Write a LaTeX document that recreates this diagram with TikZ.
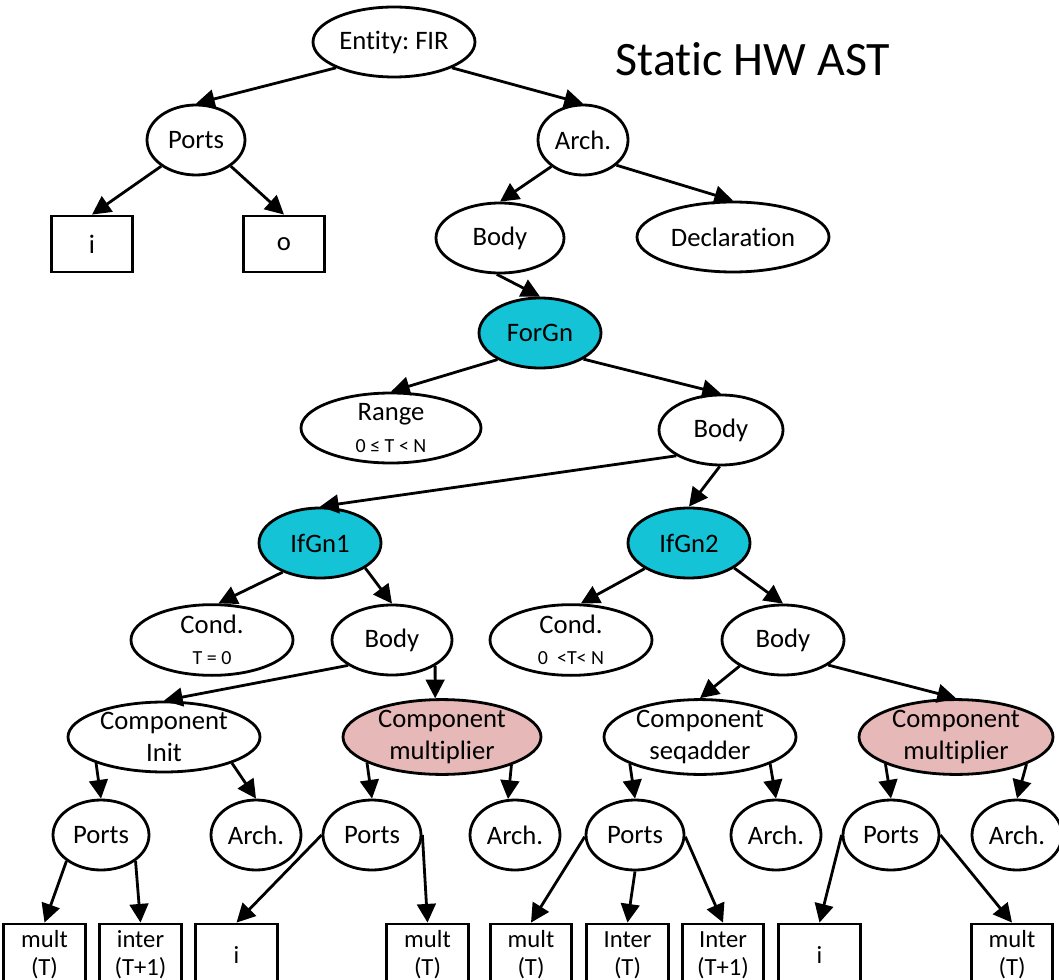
\documentclass[tikz,border=0pt]{standalone}
\usepackage{fontspec}
\setmainfont{Carlito}[Ligatures=NoCommon]
\frenchspacing
\usetikzlibrary{shapes.geometric,arrows.meta}
\definecolor{gncyan}{RGB}{20,195,214}
\definecolor{comppink}{RGB}{230,184,183}
\newcommand{\smalltxt}{\fontsize{15}{19.5}\selectfont}
\begin{document}
\begin{tikzpicture}[x=0.75pt,y=-0.75pt,
  every node/.style={font=\fontsize{20}{23.5}\selectfont, inner sep=0pt, align=center},
  el/.style={draw, ellipse, line width=2.1pt, minimum width={1.5pt*#1}, minimum height=52.5pt},
  tbox/.style={draw, rectangle, line width=2.1pt, minimum width=61pt, minimum height=42pt},
  bbox/.style={draw, rectangle, line width=2.1pt, minimum width=61pt, minimum height=46.5pt,
               font=\fontsize{18.5}{21}\selectfont},
  arr/.style={draw, line width=2.1pt, -{Triangle[length=14pt,width=14pt]}}]
\useasboundingbox (0,0) rectangle (1059,980);

% title
\node[font=\fontsize{36}{40}\selectfont, anchor=base] (title) at (753,76) {Static HW AST};

% entity level
\node[el=81] (ent) at (394,42) {Entity: FIR};
\node[el=49] (ports) at (196,140) {Ports};
\node[el=45] (arch) at (583,140) {Arch.};
\node[tbox] (pi) at (92,244) {i};
\node[tbox] (po) at (284,244) {o};
\node[el=64] (body) at (500,238) {Body};
\node[el=96] (decl) at (733,237) {Declaration};

% for-generate
\node[el=61, fill=gncyan] (forgn) at (540,333) {ForGn};
\node[el=90] (range) at (391,428) {Range\\\smalltxt 0 ≤ T < N};
\node[el=62] (bodyf) at (721,430) {Body};

% if-generates
\node[el=61, fill=gncyan] (ifa) at (320,543) {IfGn1};
\node[el=61, fill=gncyan] (ifb) at (689,543) {IfGn2};
\node[el=81] (conda) at (212,640) {Cond.\\\smalltxt T = 0};
\node[el=60] (bodya) at (392,640) {Body};
\node[el=81] (condb) at (571,640) {Cond.\\\smalltxt 0~~<T< N};
\node[el=61] (bodyb) at (783,640) {Body};

% components
\node[el=96] (cinit) at (164,737) {Component\\Init};
\node[el=99, fill=comppink] (cmula) at (442,737) {Component\\multiplier};
\node[el=96] (cseq) at (700,737) {Component\\seqadder};
\node[el=97, fill=comppink] (cmulb) at (956,737) {Component\\multiplier};

% component ports / architectures
\node[el=48] (pa) at (101,835) {Ports};
\node[el=45] (aa) at (256,835) {Arch.};
\node[el=49] (pb) at (372,835) {Ports};
\node[el=45] (ab) at (515,835) {Arch.};
\node[el=49] (pc) at (635,835) {Ports};
\node[el=45] (ac) at (776,835) {Arch.};
\node[el=48] (pd) at (891,835) {Ports};
\node[el=45] (ad) at (1017,835) {Arch.};

% port signals
\node[bbox] (sa1) at (44.5,955) {mult\\(T)};
\node[bbox] (sa2) at (140.5,955) {inter\\(T+1)};
\node[bbox] (sb1) at (236.5,955) {i};
\node[bbox] (sb2) at (427.5,955) {mult\\(T)};
\node[bbox] (sc1) at (531,955) {mult\\(T)};
\node[bbox] (sc2) at (627.5,955) {Inter\\(T)};
\node[bbox] (sc3) at (723,955) {Inter\\(T+1)};
\node[bbox] (sd1) at (819.5,955) {i};
\node[bbox] (sd2) at (1012,955) {mult\\(T)};

% connectors
\draw[arr] (ent.204.5) -- (ports.north);
\draw[arr] (ent.336) -- (arch.north);
\draw[arr] (ports.217) -- (pi.north);
\draw[arr] (ports.323) -- (po.north);
\draw[arr] (arch.220) -- (body.north);
\draw[arr] (arch.323) -- (decl.north);
\draw[arr] (body.265) -- (forgn.north);
\draw[arr] (forgn.212) -- (range.north);
\draw[arr] (forgn.329) -- (bodyf.north);
\draw[arr] (bodyf.210) -- (ifa.north);
\draw[arr] (bodyf.268) -- (ifb.north);
\draw[arr] (ifa.218) -- (conda.80);
\draw[arr] (ifa.331) -- (bodya.north);
\draw[arr] (ifb.210) -- (condb.75);
\draw[arr] (ifb.331) -- (bodyb.north);
\draw[arr] (bodya.210) -- (cinit.north);
\draw[arr] (bodya.329) -- (cmula.100);
\draw[arr] (bodyb.211) -- (cseq.north);
\draw[arr] (bodyb.331) -- (cmulb.north);
\draw[arr] (cinit.201) -- (pa.north);
\draw[arr] (cinit.339) -- (aa.north);
\draw[arr] (cmula.199) -- (pb.north);
\draw[arr] (cmula.338) -- (ab.101);
\draw[arr] (cseq.201) -- (pc.north);
\draw[arr] (cseq.339) -- (ac.north);
\draw[arr] (cmulb.201) -- (pd.north);
\draw[arr] (cmulb.339) -- (ad.north);
\draw[arr] (pa.217) -- (sa1.north);
\draw[arr] (pa.323) -- (sa2.north);
\draw[arr] (pb.west) -- (sb1.north);
\draw[arr] (pb.east) -- (sb2.north);
\draw[arr] (pc.182) -- (sc1.north);
\draw[arr] (pc.south) -- (sc2.north);
\draw[arr] (pc.358) -- (sc3.north);
\draw[arr] (pd.west) -- (sd1.north);
\draw[arr] (pd.east) -- (sd2.north);
\end{tikzpicture}
\end{document}
